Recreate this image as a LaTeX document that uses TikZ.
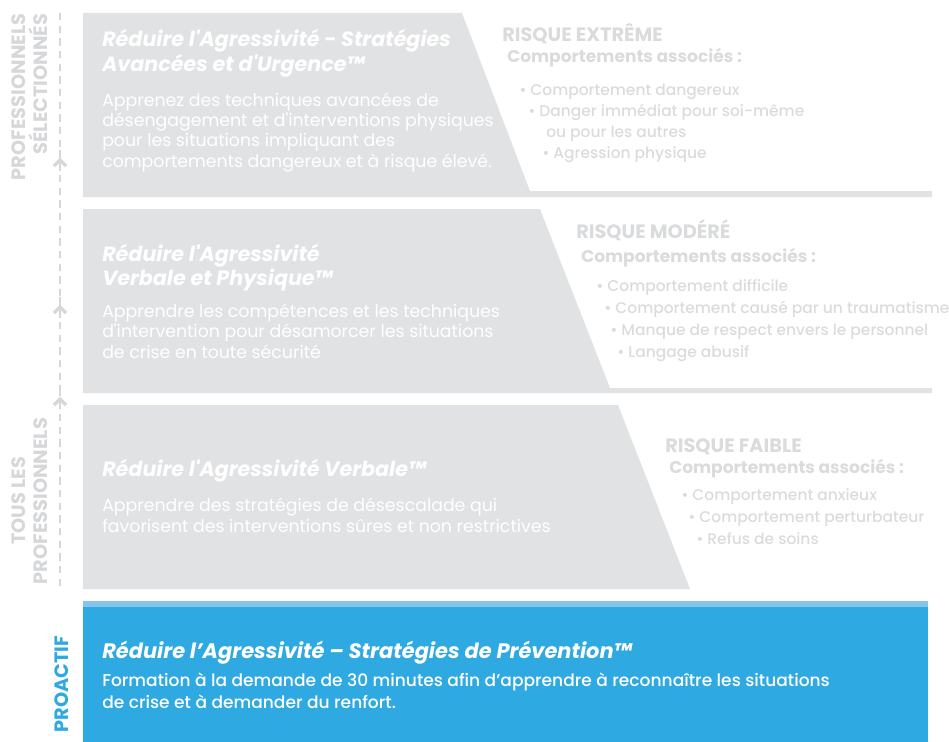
\documentclass[tikz,border=0pt]{standalone}
\usepackage{fontspec}
\setmainfont{Poppins}
\newfontfamily\medfont{Poppins Medium}
\definecolor{boxgray}{HTML}{E1E2E4}
\definecolor{riskgray}{HTML}{DADBDD}
\definecolor{sidegray}{HTML}{D6D7D9}
\definecolor{cpiblue}{HTML}{2EA9E1}
\definecolor{cpilight}{HTML}{86C4EB}
\newcommand{\apos}{\textquotesingle}

\begin{document}
\begin{tikzpicture}[x=0.75pt, y=-0.75pt,
  every node/.style={inner sep=0pt, anchor=base west, align=left},
  title/.style={text=white, font=\fontsize{15.5}{18}\selectfont\bfseries\itshape},
  body/.style={text=white, font=\fontsize{13}{15.25}\selectfont},
  risk/.style={text=riskgray, font=\fontsize{14.5}{15}\selectfont\bfseries},
  assoc/.style={text=riskgray, font=\fontsize{12.8}{15}\selectfont\bfseries},
  item/.style={text=riskgray, font=\fontsize{11.6}{15}\selectfont\medfont},
  side/.style={text=sidegray, rotate=90, anchor=base, align=right, font=\fontsize{14.5}{15.8}\selectfont\bfseries},
  dashline/.style={draw=sidegray, line width=2.2pt, dash pattern=on 5.5pt off 4pt},
  chevron/.style={draw=sidegray, line width=2.4pt}]
\useasboundingbox (0,0) rectangle (949,742);
% steps
\fill[boxgray] (83,13) -- (462,13) -- (530,191) -- (932,191) -- (932,197) -- (83,197) -- cycle;
\fill[boxgray] (83,209) -- (540,209) -- (610,388) -- (932,388) -- (932,393) -- (83,393) -- cycle;
\fill[boxgray] (83,405) -- (618,405) -- (690,589) -- (83,589) -- cycle;
\fill[cpilight] (83,601) rectangle (928,607);
\fill[cpiblue] (83,607) rectangle (928,742);
% course texts (base = last line)
\node[title] (t1) at (102,71) {R\'eduire l\apos Agressivit\'e - Strat\'egies\\Avanc\'ees et d\apos Urgence™};
\node[body] (b1) at (102,167) {Apprenez des techniques avanc\'ees de\\d\'esengagement et d\apos interventions physiques\\pour les situations impliquant des\\comportements dangereux et \`a risque \'elev\'e.};
\node[title] (t2) at (102,285) {R\'eduire l\apos Agressivit\'e\\Verbale et Physique™};
\node[body] (b2) at (102,358) {Apprendre les comp\'etences et les techniques\\d\apos intervention pour d\'esamorcer les situations\\de crise en toute s\'ecurit\'e};
\node[title] (t3) at (102,476) {R\'eduire l\apos Agressivit\'e Verbale™};
\node[body] (b3) at (102,532) {Apprendre des strat\'egies de d\'esescalade qui\\favorisent des interventions s\^ures et non restrictives};
\node[title, font=\fontsize{15.7}{18}\selectfont\bfseries\itshape] (t4) at (102,658) {R\'eduire l’Agressivit\'e – Strat\'egies de Pr\'evention™};
\node[body, font=\fontsize{12.8}{15.8}\selectfont\medfont] (b4) at (102,708) {Formation \`a la demande de 30 minutes afin d’apprendre \`a reconna\^itre les situations\\de crise et \`a demander du renfort.};
% risk levels
\node[risk] (r1) at (502,42) {RISQUE EXTR\^EME};
\node[assoc] (c1) at (507,63) {Comportements associ\'es :};
\node[item] (i11) at (519,95) {• Comportement dangereux};
\node[item] (i12) at (528,117) {• Danger imm\'ediat pour soi-m\^eme};
\node[item] (i13) at (546,137) {ou pour les autres};
\node[item] (i14) at (542,158) {• Agression physique};
\node[risk] (r2) at (576,238) {RISQUE MOD\'ER\'E};
\node[assoc] (c2) at (581,262) {Comportements associ\'es :};
\node[item] (i21) at (596,291) {• Comportement difficile};
\node[item] (i22) at (604,313) {• Comportement caus\'e par un traumatisme};
\node[item] (i23) at (610,335) {• Manque de respect envers le personnel};
\node[item] (i24) at (617,357) {• Langage abusif};
\node[risk] (r3) at (665,452) {RISQUE FAIBLE};
\node[assoc] (c3) at (669,473) {Comportements associ\'es :};
\node[item] (i31) at (681,500) {• Comportement anxieux};
\node[item] (i32) at (688,522) {• Comportement perturbateur};
\node[item] (i33) at (696,544) {• Refus de soins};
% side scale
\node[side] (s1) at (47,97) {PROFESSIONNELS\\S\'ELECTIONN\'ES};
\node[side, align=center] (s2) at (47,501) {TOUS LES\\PROFESSIONNELS};
\node[side, text=cpiblue] (s3) at (68,684) {PROACTIF};
\coordinate (top) at (60,13);
\coordinate (v1) at (60,163);
\coordinate (v2) at (60,310);
\coordinate (v3) at (60,402);
\coordinate (bot) at (60,590);
\draw[dashline] (top) -- ([yshift=-6]v1);
\draw[dashline] ([yshift=10]v1) -- ([yshift=-6]v2);
\draw[dashline] ([yshift=10]v2) -- ([yshift=-6]v3);
\draw[dashline] ([yshift=10]v3) -- (bot);
\foreach \v in {v1,v2,v3}
  \draw[chevron] ([shift={(-6,3)}]\v) -- ([shift={(0,-3)}]\v) -- ([shift={(6,3)}]\v);
\end{tikzpicture}
\end{document}
